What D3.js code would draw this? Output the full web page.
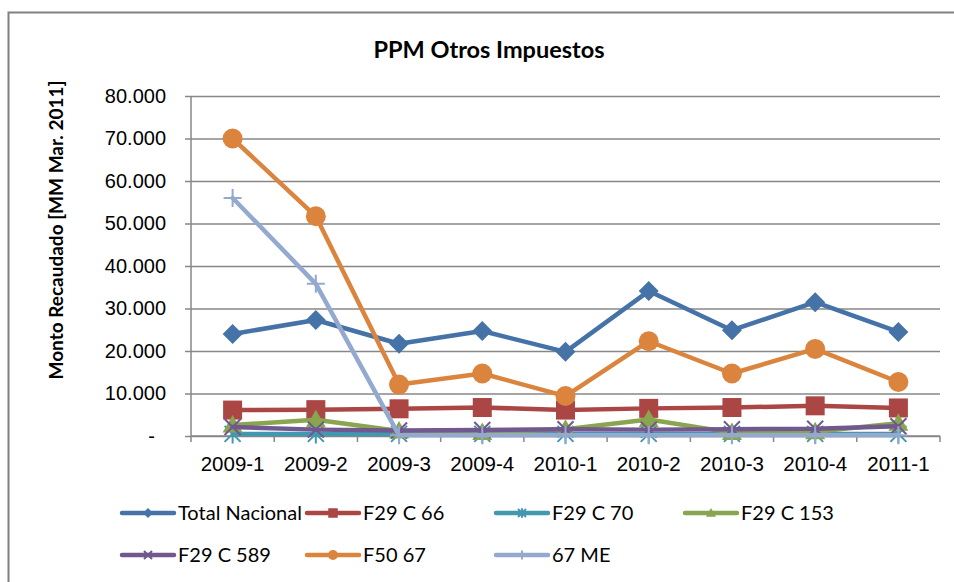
<!DOCTYPE html>
<html>
<head>
<meta charset="utf-8">
<script src="https://cdn.jsdelivr.net/npm/d3@7"></script>
<style>
  body { margin: 0; background: #fff; }
  svg { display: block; font-family: Lato, "Open Sans", sans-serif; }
</style>
</head>
<body>
<div id="chart"></div>
<script>
// data (MM Mar. 2011)
var categories = ["2009-1", "2009-2", "2009-3", "2009-4", "2010-1", "2010-2", "2010-3", "2010-4", "2011-1"];
var totalNacional = [24000, 27300, 21700, 24700, 19800, 34100, 24900, 31500, 24500];
var f29c66 = [6100, 6200, 6400, 6700, 6100, 6500, 6700, 7100, 6600];
var f29c70 = [500, 500, 500, 500, 500, 500, 500, 500, 500];
var f29c153 = [2600, 3800, 1200, 800, 1600, 3900, 800, 1000, 3000];
var f29c589 = [2100, 1500, 1300, 1400, 1600, 1500, 1600, 1700, 2300];
var f5067 = [70000, 51700, 12100, 14700, 9400, 22300, 14700, 20500, 12700];
var me67 = [56000, 35800, 150, 150, 150, 150, 150, 150, 150];
var yTicks = [0, 10000, 20000, 30000, 40000, 50000, 60000, 70000, 80000];

var series = [
  {name: "Total Nacional", values: totalNacional, color: "#4572A7", marker: "diamond"},
  {name: "F29 C 66", values: f29c66, color: "#AA4643", marker: "square"},
  {name: "F29 C 70", values: f29c70, color: "#4198AF", marker: "asterisk"},
  {name: "F29 C 153", values: f29c153, color: "#89A54E", marker: "triangle"},
  {name: "F29 C 589", values: f29c589, color: "#71588F", marker: "x"},
  {name: "F50 67", values: f5067, color: "#DB843D", marker: "circle"},
  {name: "67 ME", values: me67, color: "#93A9CF", marker: "plus"}
];

var width = 954, height = 582;
var plot = {left: 191, right: 940, top: 96, bottom: 436};

var svg = d3.select("#chart").append("svg")
    .attr("width", width)
    .attr("height", height);

// outer frame
svg.append("rect")
    .attr("x", 8.5).attr("y", 12.5)
    .attr("width", 980).attr("height", 620)
    .attr("fill", "none")
    .attr("stroke", "#808080")
    .attr("stroke-width", 2);

var x = d3.scaleBand()
    .domain(categories)
    .range([plot.left, plot.right]);

var y = d3.scaleLinear()
    .domain([0, 80000])
    .range([plot.bottom, plot.top]);

var locale = d3.formatLocale({decimal: ",", thousands: ".", grouping: [3], currency: ["$", ""]});
var fmt = locale.format(",.0f");

svg.append("text")
    .attr("x", 489)
    .attr("y", 58)
    .attr("text-anchor", "middle")
    .style("font-size", "23.5px")
    .style("font-weight", "bold")
    .text("PPM Otros Impuestos");

svg.append("text")
    .attr("transform", "translate(63,230) rotate(-90)")
    .attr("text-anchor", "middle")
    .style("font-size", "19px")
    .style("font-weight", "bold")
    .text("Monto Recaudado [MM Mar. 2011]");

// y axis with gridlines
var yAxis = d3.axisLeft(y)
    .tickValues(yTicks)
    .tickSize(-(plot.right - plot.left))
    .tickPadding(0)
    .tickFormat(function(d) { return d === 0 ? "-" : fmt(d); });

function customYAxis(g) {
    g.call(yAxis);
    g.select(".domain").remove();
    g.selectAll(".tick line")
        .attr("x1", -6)
        .attr("stroke", "#878787")
        .attr("stroke-width", 1.5);
    g.selectAll(".tick text")
        .attr("x", -25)
        .attr("fill", "#000")
        .style("font-size", "20px");
    g.selectAll(".tick text").filter(function(d) { return d === 0; })
        .attr("x", -36);
}

svg.append("g")
    .attr("class", "yAxis")
    .attr("transform", "translate(" + plot.left + ",0)")
    .call(customYAxis);

svg.append("line")
    .attr("x1", plot.left).attr("x2", plot.left)
    .attr("y1", plot.top).attr("y2", plot.bottom + 6)
    .attr("stroke", "#878787")
    .attr("stroke-width", 1.5);

// x axis: ticks at band edges
var xAxis = d3.axisBottom(x).tickSize(0).tickPadding(20);

function customXAxis(g) {
    g.call(xAxis);
    g.select(".domain")
        .attr("d", "M" + plot.left + ",0H" + plot.right)
        .attr("stroke", "#878787")
        .attr("stroke-width", 1.5);
    g.selectAll(".tick text")
        .attr("fill", "#000")
        .style("font-size", "20.5px");
}

svg.append("g")
    .attr("class", "xAxis")
    .attr("transform", "translate(0," + plot.bottom + ")")
    .call(customXAxis);

svg.append("g")
    .selectAll("line")
    .data(categories.slice(1).concat(["end"]))
    .enter().append("line")
    .attr("x1", function(d) { return d === "end" ? plot.right : x(d); })
    .attr("x2", function(d) { return d === "end" ? plot.right : x(d); })
    .attr("y1", plot.bottom)
    .attr("y2", plot.bottom + 6)
    .attr("stroke", "#878787")
    .attr("stroke-width", 1.5);

function markerPath(type, r) {
    switch (type) {
      case "diamond": return "M0," + (-r) + "L" + r + ",0L0," + r + "L" + (-r) + ",0Z";
      case "triangle": return "M0," + (-r) + "L" + r + "," + (r * 0.75) + "L" + (-r) + "," + (r * 0.75) + "Z";
      case "x": return "M" + (-r) + "," + (-r) + "L" + r + "," + r + "M" + (-r) + "," + r + "L" + r + "," + (-r);
      case "asterisk": return "M" + (-r) + "," + (-r) + "L" + r + "," + r + "M" + (-r) + "," + r + "L" + r + "," + (-r) + "M0," + (-r * 1.2) + "L0," + (r * 1.2);
      case "plus": return "M" + (-r) + ",0L" + r + ",0M0," + (-r) + "L0," + r;
    }
}

function drawMarker(g, type, color, r) {
    if (type === "circle") {
        g.append("circle").attr("r", r).attr("fill", color);
    } else if (type === "square") {
        g.append("rect")
            .attr("x", -r).attr("y", -r)
            .attr("width", 2 * r).attr("height", 2 * r)
            .attr("fill", color);
    } else if (type === "diamond" || type === "triangle") {
        g.append("path").attr("d", markerPath(type, r)).attr("fill", color);
    } else {
        g.append("path")
            .attr("d", markerPath(type, r))
            .attr("fill", "none")
            .attr("stroke", color)
            .attr("stroke-width", 2);
    }
}

var markerSize = {diamond: 10, square: 9.5, circle: 10, triangle: 10, x: 8, asterisk: 8, plus: 9};

var line = d3.line()
    .x(function(d, i) { return x(categories[i]) + x.bandwidth() / 2; })
    .y(function(d) { return y(d); });

var seriesG = svg.append("g")
    .selectAll("g")
    .data(series)
    .enter().append("g");

seriesG.append("path")
    .attr("d", function(d) { return line(d.values); })
    .attr("fill", "none")
    .attr("stroke", function(d) { return d.color; })
    .attr("stroke-width", 4.5)
    .attr("stroke-linejoin", "round")
    .attr("stroke-linecap", "round");

seriesG.each(function(s) {
    var g = d3.select(this);
    s.values.forEach(function(v, i) {
        var m = g.append("g")
            .attr("transform", "translate(" + (x(categories[i]) + x.bandwidth() / 2) + "," + y(v) + ")");
        drawMarker(m, s.marker, s.color, markerSize[s.marker]);
    });
});

// legend
var legendX = [122, 307, 496, 685];
var legendY = [513, 555];

var legend = svg.append("g")
    .selectAll("g")
    .data(series)
    .enter().append("g")
    .attr("transform", function(d, i) {
        return "translate(" + legendX[i % 4] + "," + legendY[Math.floor(i / 4)] + ")";
    });

legend.append("line")
    .attr("x1", 0).attr("x2", 52)
    .attr("stroke", function(d) { return d.color; })
    .attr("stroke-width", 4.5)
    .attr("stroke-linecap", "round");

legend.each(function(s) {
    var m = d3.select(this).append("g").attr("transform", "translate(26,0)");
    drawMarker(m, s.marker, s.color, markerSize[s.marker] * 0.5);
});

legend.append("text")
    .attr("x", 56)
    .attr("dy", "0.35em")
    .style("font-size", "20px")
    .text(function(d) { return d.name; });
</script>
</body>
</html>
